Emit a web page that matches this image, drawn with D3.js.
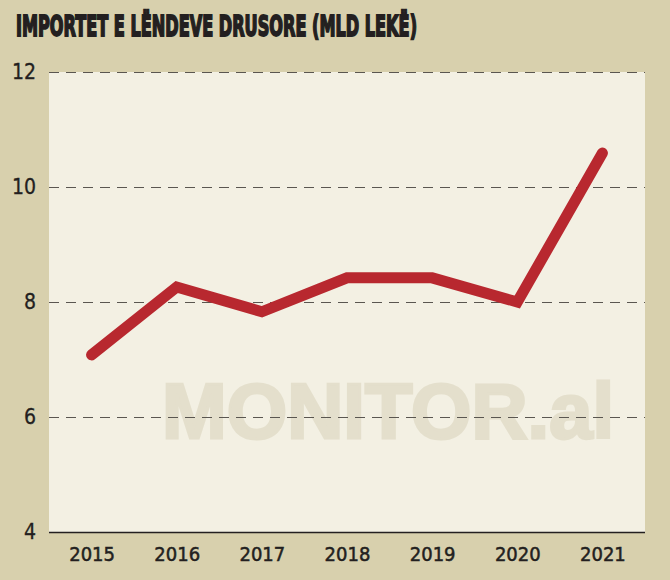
<!DOCTYPE html>
<html>
<head>
<meta charset="utf-8">
<script src="https://cdn.jsdelivr.net/npm/d3@7"></script>
<style>
    html, body { margin: 0; padding: 0; background: #d8d0ad; }
    svg { display: block; }
</style>
</head>
<body>
<svg id="chart"></svg>
<script>
"use strict";

// data
var years = ["2015", "2016", "2017", "2018", "2019", "2020", "2021"];
var values = [7.08, 8.26, 7.83, 8.42, 8.42, 8.0, 10.59];
var yTicks = [4, 6, 8, 10, 12];
var title = "IMPORTET E LËNDEVE DRUSORE (MLD LEKË)";

var width = 670, height = 580;
var margin = {top: 72, right: 25, bottom: 48, left: 49};
var narrow = "'Liberation Sans Narrow', 'DejaVu Sans Condensed', sans-serif";

var svg = d3.select("#chart")
    .attr("width", width)
    .attr("height", height);

svg.append("rect")
    .attr("width", width)
    .attr("height", height)
    .style("fill", "#d8d0ad");

// panel
svg.append("rect")
    .attr("x", margin.left)
    .attr("y", margin.top)
    .attr("width", width - margin.left - margin.right)
    .attr("height", height - margin.top - margin.bottom)
    .style("fill", "#f3f0e3");

var xScale = d3.scalePoint()
    .domain(years)
    .range([margin.left, width - margin.right])
    .padding(0.5);

var yScale = d3.scaleLinear()
    .domain([4, 12])
    .range([height - margin.bottom, margin.top]);

// watermark
svg.append("text")
    .attr("x", 162)
    .attr("y", 438)
    .attr("textLength", 452)
    .attr("lengthAdjust", "spacingAndGlyphs")
    .style("font-family", "'Liberation Sans', Arial, sans-serif")
    .style("font-weight", "bold")
    .style("font-size", "78px")
    .style("fill", "#e4dfcc")
    .style("stroke", "#e4dfcc")
    .style("stroke-width", 3)
    .text("MONITOR.al");

// title
svg.append("text")
    .attr("x", 16)
    .attr("y", 36)
    .attr("textLength", 401)
    .attr("lengthAdjust", "spacingAndGlyphs")
    .style("font-family", narrow)
    .style("font-weight", "bold")
    .style("font-size", "29px")
    .style("fill", "#231f20")
    .style("stroke", "#231f20")
    .style("stroke-width", 1.8)
    .text(title);

// y axis with dashed grid
var yAxis = d3.axisLeft(yScale)
    .tickValues(yTicks)
    .tickSize(-(width - margin.left - margin.right))
    .tickPadding(13)
    .tickFormat(d3.format("d"));

var gy = svg.append("g")
    .attr("transform", "translate(" + margin.left + ",0)")
    .call(yAxis);
gy.select(".domain").remove();
gy.selectAll(".tick line")
    .style("stroke", d => d == 4 ? "#231f20" : "#5a5650")
    .style("stroke-width", d => d == 4 ? 1.6 : 1.2)
    .style("stroke-dasharray", d => d == 4 ? null : "10,7");
gy.selectAll(".tick text")
    .style("font-family", narrow)
    .style("font-size", "21px")
    .style("fill", "#231f20")
    .style("stroke", "#231f20")
    .style("stroke-width", 0.3);

// x axis
var xAxis = d3.axisBottom(xScale)
    .tickSize(0)
    .tickPadding(15);

var gx = svg.append("g")
    .attr("transform", "translate(0," + (height - margin.bottom) + ")")
    .call(xAxis);
gx.select(".domain").remove();
gx.selectAll(".tick text")
    .style("font-family", narrow)
    .style("font-size", "20px")
    .style("fill", "#231f20")
    .style("stroke", "#231f20")
    .style("stroke-width", 0.5);

// line
var line = d3.line()
    .x((d, i) => xScale(years[i]))
    .y(d => yScale(d));

svg.append("path")
    .datum(values)
    .attr("d", line)
    .style("fill", "none")
    .style("stroke", "#b8282f")
    .style("stroke-width", 11)
    .style("stroke-linecap", "round")
    .style("stroke-linejoin", "miter");
</script>
</body>
</html>
